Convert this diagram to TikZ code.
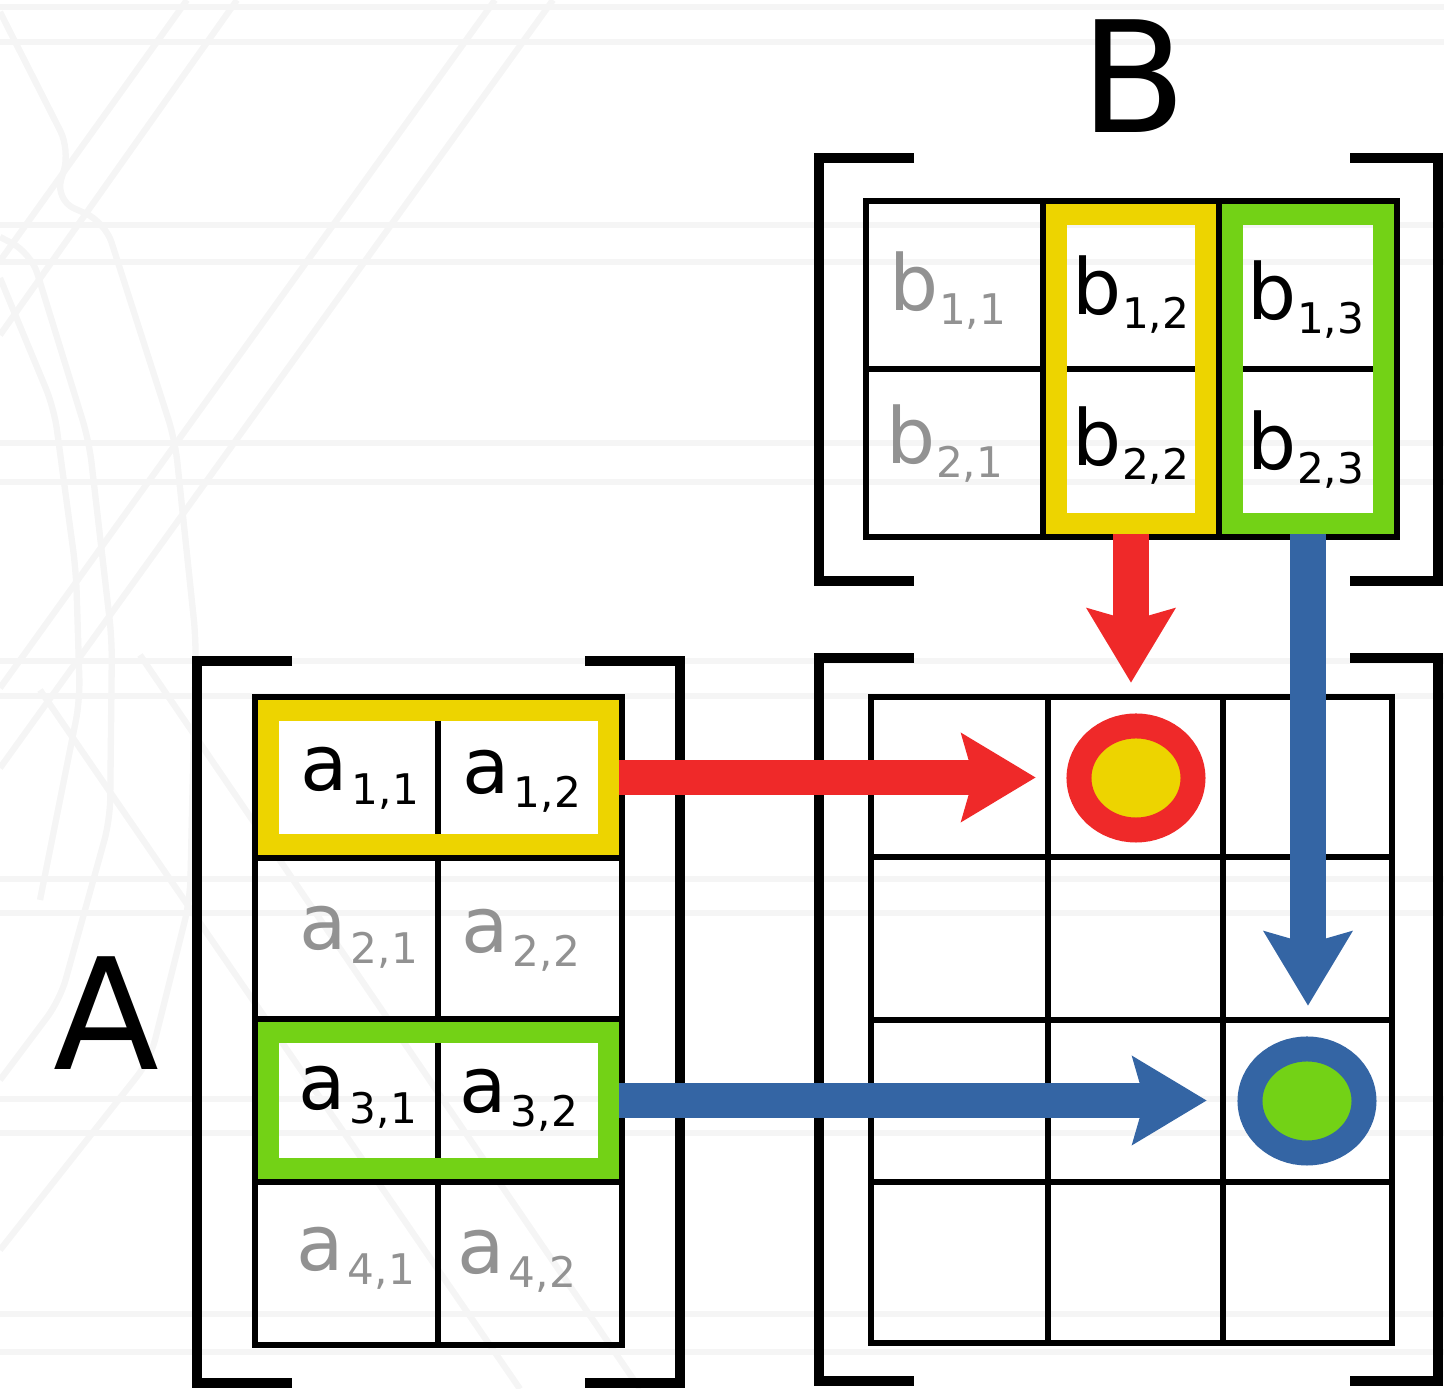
\documentclass[tikz,border=0pt]{standalone}
\usepackage{fontspec}
\setmainfont{DejaVu Sans}
\usetikzlibrary{arrows.meta,shapes.geometric}
\definecolor{tred}{HTML}{EF2929}
\definecolor{tyellow}{HTML}{EDD400}
\definecolor{tgreen}{HTML}{73D216}
\definecolor{tblue}{HTML}{3465A4}
\definecolor{fadegray}{HTML}{929292}
\definecolor{bggray}{HTML}{F5F5F5}
\newcommand\mel[3][0pt]{#2\kern#1\raisebox{-4pt}{\fontsize{12}{12}\selectfont #3}}

\begin{document}
\begin{tikzpicture}[x=0.01cm,y=-0.01cm,
    bgline/.style={bggray,line width=1.8pt,rounded corners=6pt},
    gridline/.style={black,line width=1.75pt},
    brack/.style={black,line width=2.85pt,line join=miter},
    hlbox/.style={draw=#1,line width=6pt,inner sep=0pt},
    ring/.style={ellipse,draw=#1,line width=7.1pt,inner sep=0pt,
      minimum width=1.14cm,minimum height=1.04cm},
    arr/.style={#1,line width=10pt,shorten >=8.8pt,
      -{Stealth[length=21.3pt,width=25.6pt,inset=3.7pt,line width=0pt]}},
    ent/.style={inner sep=0pt,font=\fontsize{22}{22}\selectfont},
    fade/.style={ent,text=fadegray},
    biglbl/.style={inner sep=0pt,font=\fontsize{44}{44}\selectfont}]
          \useasboundingbox (0,0) rectangle (1444,1389);

          % faint backdrop
          \draw[bgline] (0,7) -- (1444,7) (0,42) -- (1444,42)
            (0,225) -- (1444,225) (0,262) -- (1444,262)
            (0,443) -- (1444,443) (0,482) -- (1444,482)
            (0,661) -- (1444,661) (0,696) -- (1444,696)
            (0,879) -- (1444,879) (0,913) -- (1444,913)
            (0,1099) -- (1444,1099) (0,1133) -- (1444,1133)
            (0,1314) -- (1444,1314) (0,1352) -- (1444,1352);
          \draw[bgline] (495,0) -- (0,688) (553,0) -- (0,768)
            (187,0) -- (0,261) (237,0) -- (0,335)
            (140,655) -- (640,1389) (40,690) -- (520,1389);
          \draw[bgline] (0,12) -- (70,150) -- (55,200) -- (105,222) -- (175,440)
            -- (196,640) -- (190,900) -- (150,1060) -- (0,1250);
          \draw[bgline] (0,237) -- (31,253) -- (89,441) -- (112,640) -- (110,820)
            -- (60,1000) -- (0,1080);
          \draw[bgline] (0,278) -- (54,408) -- (76,571) -- (80,700) -- (40,900);

          % matrix A
          \draw[gridline] (255,697) rectangle (622,1345);
          \draw[gridline] (438,697) -- (438,1345);
          \draw[gridline] (255,858) -- (622,858) (255,1019) -- (622,1019) (255,1182) -- (622,1182);

          % matrix B
          \draw[gridline] (866,201) rectangle (1397,537);
          \draw[gridline] (1043,201) -- (1043,537) (1219,201) -- (1219,537);
          \draw[gridline] (866,369) -- (1397,369);

          % product
          \draw[gridline] (871,697) rectangle (1392,1343);
          \draw[gridline] (1048,697) -- (1048,1343) (1223,697) -- (1223,1343);
          \draw[gridline] (871,857) -- (1392,857) (871,1020) -- (1392,1020) (871,1182) -- (1392,1182);

          % highlighted rows and columns
          \node[hlbox=tyellow,minimum width=3.40cm,minimum height=1.34cm] (ayel) at (438.5,777.5) {};
          \node[hlbox=tgreen,minimum width=3.40cm,minimum height=1.36cm] (agrn) at (438.5,1100.5) {};
          \node[hlbox=tyellow,minimum width=1.49cm,minimum height=3.09cm] (byel) at (1131,369) {};
          \node[hlbox=tgreen,minimum width=1.51cm,minimum height=3.09cm] (bgrn) at (1308,369) {};

          \node[ring=tred,fill=tyellow] (ryel) at (1136,778) {};
          \node[ring=tblue,fill=tgreen] (rgrn) at (1307,1101) {};

          % brackets
          \draw[brack] (292,661) -- (197,661) -- (197,1383) -- (292,1383);
          \draw[brack] (585,661) -- (680,661) -- (680,1383) -- (585,1383);
          \draw[brack] (914,158) -- (819,158) -- (819,581) -- (914,581);
          \draw[brack] (1350,158) -- (1438,158) -- (1438,581) -- (1350,581);
          \draw[brack] (914,658) -- (819,658) -- (819,1381) -- (914,1381);
          \draw[brack] (1350,658) -- (1438,658) -- (1438,1381) -- (1350,1381);

          % arrows
          \draw[arr=tred] (ayel.east) -- (ayel.east -| ryel.west);
          \draw[arr=tred] (byel.south) -- (byel.south |- ryel.north);
          \draw[arr=tblue] (agrn.east) -- (agrn.east -| rgrn.west);
          \draw[arr=tblue] (bgrn.south) -- (bgrn.south |- rgrn.north);

          % entries
          \node[ent] (a11) at (360,778) {\mel[1pt]{a}{1,1}};
          \node[ent] (a12) at (522,781) {\mel[1pt]{a}{1,2}};
          \node[fade] (a21) at (359,937) {\mel[1pt]{a}{2,1}};
          \node[fade] (a22) at (521,940) {\mel[1pt]{a}{2,2}};
          \node[ent] (a31) at (358,1097) {\mel[1pt]{a}{3,1}};
          \node[ent] (a32) at (519,1100) {\mel[1pt]{a}{3,2}};
          \node[fade] (a41) at (356,1258) {\mel[1pt]{a}{4,1}};
          \node[fade] (a42) at (517,1261) {\mel[1pt]{a}{4,2}};

          \node[fade] (b11) at (948,291) {\mel{b}{1,1}};
          \node[ent] (b12) at (1131,295) {\mel{b}{1,2}};
          \node[ent] (b13) at (1306,300) {\mel{b}{1,3}};
          \node[fade] (b21) at (945,444) {\mel{b}{2,1}};
          \node[ent] (b22) at (1131,446) {\mel{b}{2,2}};
          \node[ent] (b23) at (1306,450) {\mel{b}{2,3}};

          \node[biglbl] (labA) at (106,1013) {A};
          \node[biglbl] (labB) at (1134,76) {B};

          \end{tikzpicture}
\end{document}
